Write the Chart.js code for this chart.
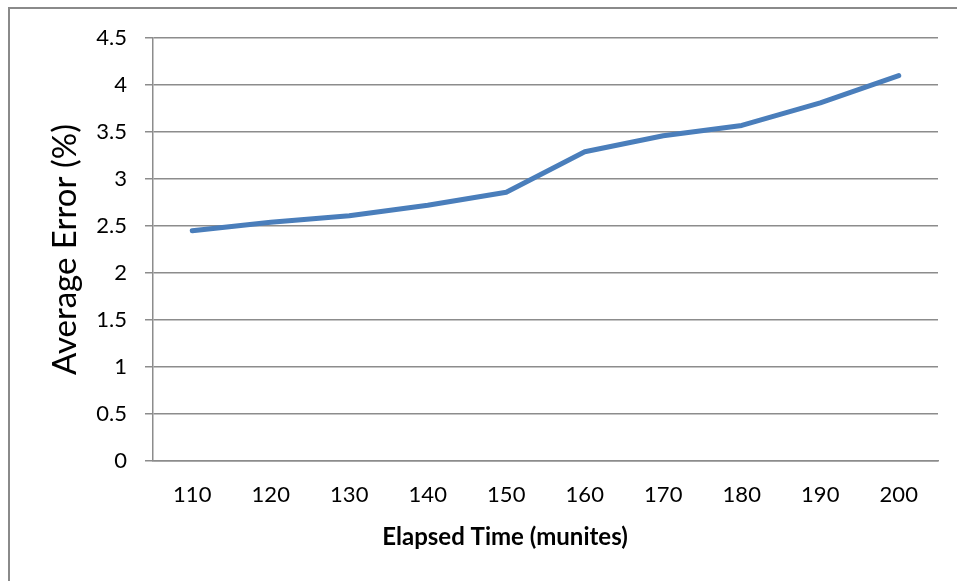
<!DOCTYPE html>
<html>
<head>
<meta charset="utf-8">
<script src="https://cdn.jsdelivr.net/npm/chart.js@4/dist/chart.umd.min.js"></script>
<style>
  html, body { margin: 0; padding: 0; background: #fff; overflow: hidden; width: 957px; height: 581px; }
  #frame { position: absolute; left: 8px; top: 7px; width: 1000px; height: 600px;
           border-left: 2px solid #8a8a8a; border-top: 2px solid #8a8a8a; box-sizing: border-box; }
  #wrap { position: absolute; left: 0; top: 0; width: 1010px; height: 600px; }
</style>
</head>
<body>
<div id="frame"></div>
<div id="wrap"><canvas id="errorChart"></canvas></div>
<script>
// data
let elapsedLabels = ['110', '120', '130', '140', '150', '160', '170', '180', '190', '200'];
let averageError = [2.45, 2.54, 2.61, 2.72, 2.86, 3.29, 3.46, 3.57, 3.81, 4.10];
let yTitle = 'Average Error (%)';
let xTitle = 'Elapsed Time (munites)';

var gridGray = '#8c8c8c';

// x axis title sits centred under the whole chart frame, not the plot
var xTitlePlugin = {
  id: 'xTitle',
  afterDraw: function(chart){
    var ctx = chart.ctx;
    ctx.save();
    ctx.font = 'bold 24px Lato';
    ctx.fillStyle = '#000';
    ctx.textAlign = 'center';
    ctx.textBaseline = 'middle';
    ctx.fillText(xTitle, chart.width / 2, 537);
    ctx.restore();
  }
};

function createErrorChart(){
  var ctx = document.getElementById('errorChart').getContext('2d');
  var chart = new Chart(ctx, {
    type: 'line',
    data: {
      labels: elapsedLabels,
      datasets: [{
        label: 'Average Error',
        borderColor: '#4a7ebb',
        borderWidth: 5,
        borderCapStyle: 'round',
        borderJoinStyle: 'round',
        pointRadius: 0,
        tension: 0,
        fill: false,
        data: averageError
      }]
    },
    options: {
      responsive: true,
      maintainAspectRatio: false,
      animation: false,
      layout: { padding: { top: 38, right: 72, bottom: 79, left: 0 } },
      plugins: { legend: { display: false }, tooltip: { enabled: false } },
      scales: {
        x: {
          offset: true,
          afterFit: function(scale){ scale.height = 60; },
          grid: { display: false, drawTicks: false, offset: true },
          border: { display: true, color: gridGray, width: 1.5 },
          ticks: { color: '#000', padding: 21, maxRotation: 0, font: { family: 'Lato', size: 22 } }
        },
        y: {
          min: 0,
          max: 4.5,
          afterFit: function(scale){ scale.width = 153; },
          grid: { color: gridGray, lineWidth: 1.5, tickLength: 8, drawTicks: true },
          border: { display: true, color: gridGray, width: 1.5 },
          ticks: {
            stepSize: 0.5, color: '#000', padding: 18, font: { family: 'Lato', size: 22 },
            callback: function(v){ return String(v); }
          },
          title: { display: true, text: yTitle, color: '#000', padding: { top: 46, bottom: 0 },
                   font: { family: 'Lato', size: 33 } }
        }
      }
    },
    plugins: [xTitlePlugin]
  });
}

createErrorChart();
</script>
</body>
</html>
